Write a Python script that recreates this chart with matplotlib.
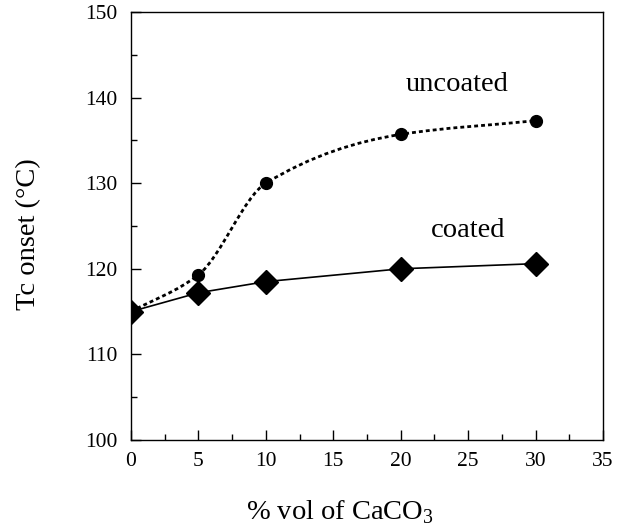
import numpy as np
import matplotlib.pyplot as plt
from matplotlib.path import Path
from matplotlib.patches import PathPatch
from matplotlib.ticker import MultipleLocator

plt.rcParams["font.family"] = ["Liberation Serif", "DejaVu Serif"]
plt.rcParams["mathtext.fontset"] = "custom"
plt.rcParams["mathtext.rm"] = "Liberation Serif"

# data
vol = [0, 5, 10, 20, 30]
uncoated = [115.0, 119.3, 130.0, 135.7, 137.3]
coated = [115.0, 117.2, 118.5, 120.0, 120.6]


def smooth_path(x, y):
    """Monotone cubic (Fritsch-Carlson) curve through the points, as Bezier segments."""
    x = np.asarray(x, float)
    y = np.asarray(y, float)
    h = np.diff(x)
    d = np.diff(y) / h
    m = np.zeros_like(x)
    for i in range(1, len(x) - 1):
        if d[i - 1] * d[i] > 0:
            w1 = 2 * h[i] + h[i - 1]
            w2 = h[i] + 2 * h[i - 1]
            m[i] = (w1 + w2) / (w1 / d[i - 1] + w2 / d[i])
    m[0] = d[0]
    m[-1] = d[-1]
    verts = [(x[0], y[0])]
    codes = [Path.MOVETO]
    for i in range(len(x) - 1):
        verts += [(x[i] + h[i] / 3, y[i] + m[i] * h[i] / 3),
                  (x[i + 1] - h[i] / 3, y[i + 1] - m[i + 1] * h[i] / 3),
                  (x[i + 1], y[i + 1])]
        codes += [Path.CURVE4] * 3
    return Path(verts, codes)


fig = plt.figure(figsize=(6.3, 5.31), dpi=100)
ax = fig.add_axes([0.208, 0.1714, 0.749, 0.806])

# uncoated: smooth dotted curve + circles
ax.add_patch(PathPatch(smooth_path(vol, uncoated), fill=False, edgecolor="black",
                       lw=2.0, linestyle=(0, (1.4, 1.1))))
ax.plot(vol, uncoated, "o", color="black", markersize=8.5, zorder=3)

# coated: solid line + diamonds
ax.plot(vol, coated, "-", color="black", lw=1.2, marker="D", markersize=12, zorder=3)

ax.text(24.2, 141.5, "uncoated", fontsize=20.5, ha="center", va="center")
ax.text(25.0, 124.5, "coated", fontsize=20.5, ha="center", va="center")

ax.set_xlim(0, 35)
ax.set_ylim(100, 150)
ax.xaxis.set_major_locator(MultipleLocator(5))
ax.xaxis.set_minor_locator(MultipleLocator(2.5))
ax.yaxis.set_major_locator(MultipleLocator(10))
ax.yaxis.set_minor_locator(MultipleLocator(5))
ax.tick_params(which="both", direction="in", top=False, right=False, labelsize=15.5)
ax.tick_params(which="major", length=7.5, width=1)
ax.tick_params(which="minor", length=4, width=1)
ax.tick_params(axis="y", pad=10)
ax.tick_params(axis="x", pad=9)

ax.set_xlabel("% vol of CaCO$_3$", fontsize=20.5)
ax.set_ylabel("Tc onset (°C)", fontsize=20.5)
ax.xaxis.set_label_coords(0.443, -0.135)
ax.yaxis.set_label_coords(-0.19, 0.48)

for s in ax.spines.values():
    s.set_linewidth(1.0)

fig.savefig("out.png", dpi=100)
